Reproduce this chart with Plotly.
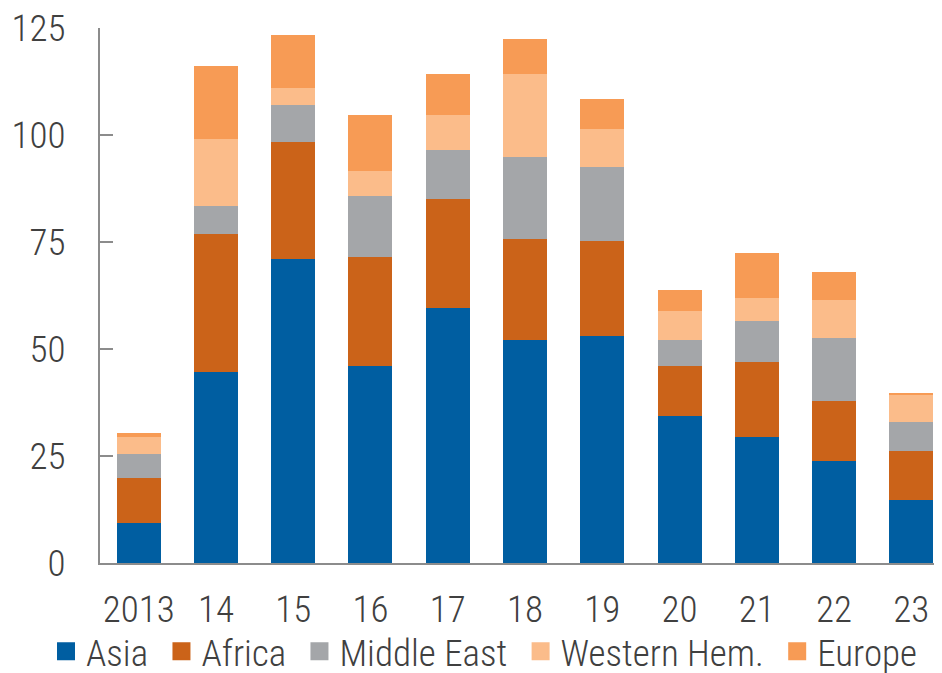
import plotly.graph_objects as go

years = ["2013", "14", "15", "16", "17", "18", "19", "20", "21", "22", "23"]
asia = [9.4, 44.6, 71.0, 46.0, 59.5, 52.1, 53.1, 34.3, 29.5, 23.8, 14.7]
africa = [10.5, 32.2, 27.4, 25.6, 25.5, 23.7, 22.2, 11.7, 17.5, 14.1, 11.5]
middle_east = [5.6, 6.6, 8.6, 14.2, 11.5, 19.1, 17.3, 6.1, 9.5, 14.7, 6.7]
western_hem = [3.9, 15.6, 3.9, 5.9, 8.1, 19.4, 8.7, 6.8, 5.5, 8.8, 6.3]
europe = [1.0, 17.2, 12.5, 12.9, 9.7, 8.2, 7.2, 4.9, 10.4, 6.7, 0.6]

series = [
    ("Asia", asia, "#005EA1"),
    ("Africa", africa, "#CB6319"),
    ("Middle East", middle_east, "#A4A6A9"),
    ("Western Hem.", western_hem, "#FBBC8A"),
    ("Europe", europe, "#F79B55"),
]

FONT = "Liberation Sans Narrow, Arial Narrow, Roboto Condensed, Liberation Sans, sans-serif"
TXT = "#404040"
PAD = "\u00a0"
FS = 37

fig = go.Figure()
for name, vals, color in series:
    fig.add_trace(go.Bar(x=years, y=vals, name=name, marker=dict(color=color, line=dict(width=0)),
                         showlegend=False))
for i, (name, vals, color) in enumerate(series):
    label = name if i == len(series) - 1 else name + PAD
    fig.add_trace(go.Scatter(x=[None], y=[None], mode="markers", name=label,
                             marker=dict(symbol="square", size=16, color=color,
                                         line=dict(width=2, color=color))))

fig.update_layout(
    barmode="stack",
    bargap=0.43,
    width=942, height=673,
    margin=dict(l=92, r=0, t=20, b=118, autoexpand=False),
    paper_bgcolor="white", plot_bgcolor="white",
    font=dict(family=FONT, size=FS, color=TXT, weight=300),
    legend=dict(orientation="h", x=-0.0635, y=-0.166, xanchor="left", yanchor="middle",
                font=dict(family=FONT, size=FS, color=TXT, weight=300),
                itemsizing="trace", itemwidth=30, tracegroupgap=0,
                traceorder="normal", bgcolor="rgba(0,0,0,0)"),
    showlegend=True,
)
fig.update_xaxes(type="category", range=[-0.5, 10.5], showline=True, linecolor="#8C8C8C",
                 linewidth=2, ticks="", showgrid=False, ticklabelstandoff=13,
                 ticklabeloverflow="allow",
                 tickfont=dict(family=FONT, size=FS, color=TXT, weight=300))
fig.update_yaxes(range=[0, 125], tickvals=[0, 25, 50, 75, 100, 125], showline=True,
                 linecolor="#8C8C8C", linewidth=2, ticks="inside", ticklen=13, tickwidth=2,
                 tickcolor="#8C8C8C", showgrid=False, zeroline=False, ticklabelstandoff=25,
                 ticklabeloverflow="allow",
                 tickfont=dict(family=FONT, size=FS, color=TXT, weight=300))

fig.write_html("out.html")
